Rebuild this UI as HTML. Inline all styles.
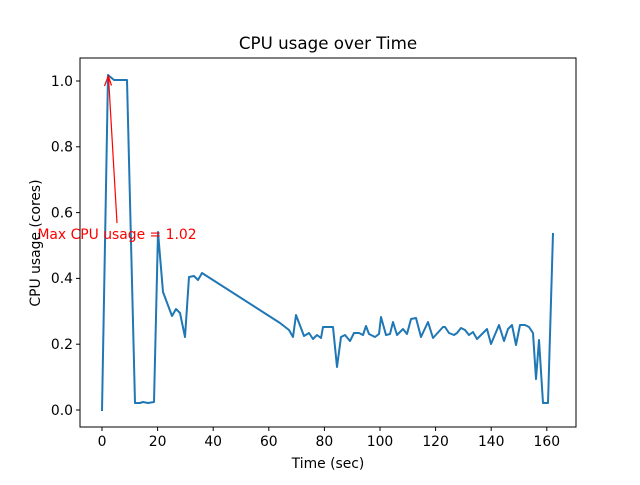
<!DOCTYPE html>
<html><head><meta charset="utf-8"><style>body{margin:0;background:#fff}</style></head><body>
<svg width="640" height="480" xmlns="http://www.w3.org/2000/svg" font-family="DejaVu Sans, sans-serif">
<rect width="640" height="480" fill="#fff"/>
<text x="328" y="49" font-size="16.7" text-anchor="middle">CPU usage over Time</text>
<polyline fill="none" stroke="#1f77b4" stroke-width="2" stroke-linejoin="round" points="102,411 108,75 114,80 119,80 127,80 135,403 140,403 143,402 148,403 154,402 158,232 163,292 172,316 176,309 180,313 185,337 189,277 194,276 198,280 202,273 280,323 289,330 293,337 296,315 304,336 309,333 313,339 317,335 321,338 323,327 329,327 333,327 337,367 341,337 345,335 350,341 354,333 359,333 363,335 366,326 369,334 375,337 379,334 381,317 386,335 390,334 393,322 397,335 403,329 407,334 411,319 416,318 421,337 428,322 433,338 443,327 445,327 449,333 454,335 457,333 461,328 465,330 469,335 473,332 477,339 487,329 491,344 499,325 504,341 508,329 512,325 516,345 520,325 525,325 529,327 533,333 536,379 539,340 543,403 548,403 553,233"/>
<line x1="117" y1="223" x2="108.5" y2="77" stroke="red" stroke-width="1.2"/>
<polyline points="104.5,86 108.3,76 111.5,85.5" fill="none" stroke="red" stroke-width="1.2"/>
<text x="117" y="239" font-size="13.9" fill="red" text-anchor="middle">Max CPU usage = 1.02</text>
<rect x="80" y="58" width="496" height="369" fill="none" stroke="#000" stroke-width="1"/>
<g font-size="13.9" text-anchor="middle" stroke="#000">
<line x1="102" y1="427" x2="102" y2="431"/><line x1="157.6" y1="427" x2="157.6" y2="431"/><line x1="213.2" y1="427" x2="213.2" y2="431"/><line x1="268.8" y1="427" x2="268.8" y2="431"/><line x1="324.4" y1="427" x2="324.4" y2="431"/><line x1="380" y1="427" x2="380" y2="431"/><line x1="435.6" y1="427" x2="435.6" y2="431"/><line x1="491.2" y1="427" x2="491.2" y2="431"/><line x1="546.8" y1="427" x2="546.8" y2="431"/>
<line x1="76" y1="410" x2="80" y2="410"/><line x1="76" y1="344.2" x2="80" y2="344.2"/><line x1="76" y1="278.4" x2="80" y2="278.4"/><line x1="76" y1="212.6" x2="80" y2="212.6"/><line x1="76" y1="146.8" x2="80" y2="146.8"/><line x1="76" y1="81" x2="80" y2="81"/>
</g>
<g font-size="13.9" text-anchor="middle">
<text x="102" y="446">0</text><text x="157.6" y="446">20</text><text x="213.2" y="446">40</text><text x="268.8" y="446">60</text><text x="324.4" y="446">80</text><text x="380" y="446">100</text><text x="435.6" y="446">120</text><text x="491.2" y="446">140</text><text x="546.8" y="446">160</text>
</g>
<g font-size="13.9" text-anchor="end">
<text x="73" y="415">0.0</text><text x="73" y="349">0.2</text><text x="73" y="283">0.4</text><text x="73" y="217.5">0.6</text><text x="73" y="151.5">0.8</text><text x="73" y="86">1.0</text>
</g>
<text x="328" y="468" font-size="13.9" text-anchor="middle">Time (sec)</text>
<text transform="translate(40,243) rotate(-90)" font-size="13.9" text-anchor="middle">CPU usage (cores)</text>
</svg>
</body></html>
